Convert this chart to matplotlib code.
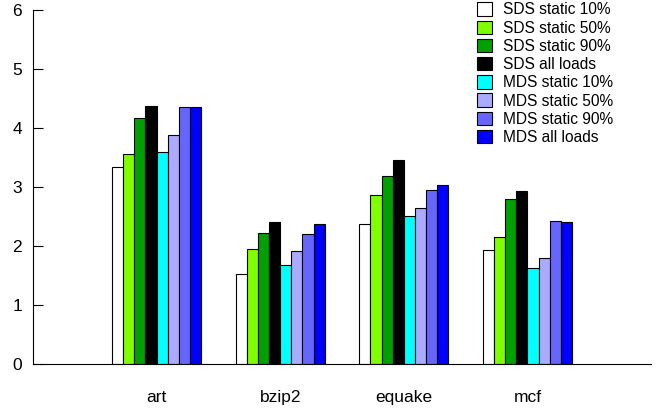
import numpy as np
import matplotlib
matplotlib.use('Agg')
import matplotlib.pyplot as plt

plt.rcParams['font.family'] = ['Liberation Sans', 'DejaVu Sans']

benchmarks = ['art', 'bzip2', 'equake', 'mcf']
series = ['SDS static 10%', 'SDS static 50%', 'SDS static 90%', 'SDS all loads',
          'MDS static 10%', 'MDS static 50%', 'MDS static 90%', 'MDS all loads']
colors = ['#ffffff', '#80ff00', '#00a000', '#000000',
          '#00ffff', '#aaaaff', '#6666ff', '#0000ff']

sds_10 = [3.34, 1.52, 2.38, 1.93]
sds_50 = [3.56, 1.95, 2.87, 2.15]
sds_90 = [4.17, 2.22, 3.18, 2.80]
sds_all = [4.38, 2.40, 3.46, 2.94]
mds_10 = [3.59, 1.67, 2.51, 1.63]
mds_50 = [3.88, 1.92, 2.64, 1.79]
mds_90 = [4.36, 2.21, 2.95, 2.42]
mds_all = [4.35, 2.37, 3.03, 2.40]
values = [sds_10, sds_50, sds_90, sds_all, mds_10, mds_50, mds_90, mds_all]

fig = plt.figure(figsize=(6.58, 4.13), dpi=100)
ax = fig.add_axes([33/658, 49/413, 618/658, 354/413])

x = np.arange(1, len(benchmarks) + 1)
w = 0.09
for i, (vals, lab, c) in enumerate(zip(values, series, colors)):
    ax.bar(x + (i - 3.5) * w, vals, w, color=c, edgecolor='black',
           linewidth=0.8, label=lab)

ax.set_xlim(0, 5)
ax.set_ylim(0, 6)
ax.set_xticks(x)
ax.set_xticklabels(benchmarks, fontsize=12.5)
ax.tick_params(axis='x', length=0, pad=19)
ax.tick_params(axis='y', direction='in', length=7, labelsize=12.5, pad=8)
ax.set_yticks(range(7))
ax.spines['top'].set_visible(False)
ax.spines['right'].set_visible(False)

ax.legend(loc='upper left', bbox_to_anchor=(475/658, 1.0), bbox_transform=fig.transFigure,
          frameon=False, fontsize=11.2, handlelength=0.96, handleheight=0.96,
          labelspacing=0.2, handletextpad=0.7, borderaxespad=0, borderpad=0.15)

fig.savefig('out.png', dpi=100)
